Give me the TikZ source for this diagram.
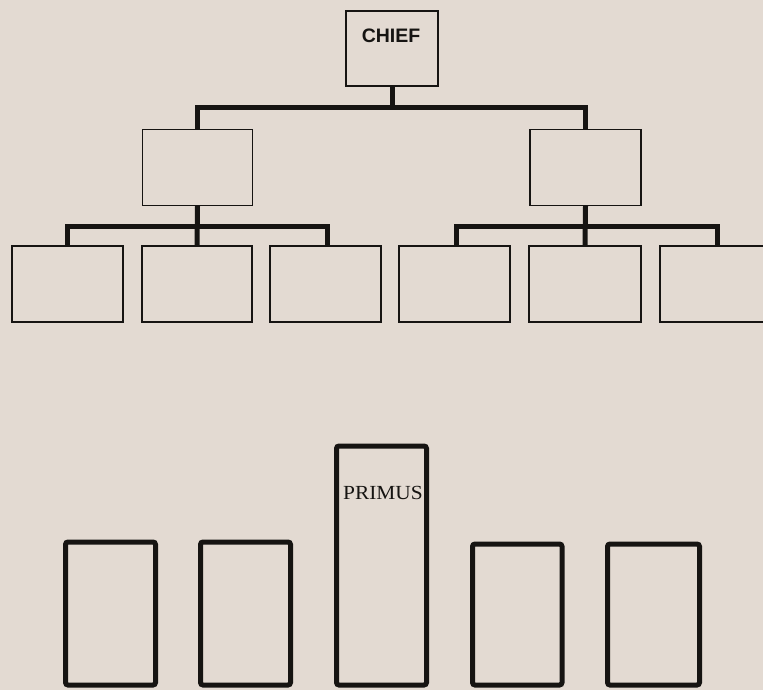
\documentclass[tikz,border=0pt]{standalone}
\usepackage{fontspec}
\setmainfont{Liberation Serif}
\newfontfamily\chieffont{Liberation Sans}
\definecolor{bg}{RGB}{227,218,210}
\definecolor{ink}{RGB}{22,20,18}
\begin{document}
\begin{tikzpicture}[x=1pt,y=-1pt,
  thinbox/.style={draw=ink,line width=1.3pt,inner sep=0pt,minimum width=110pt,minimum height=76pt},
  conn/.style={draw=ink,line width=5pt},
  thickbox/.style={draw=ink,line width=5pt,rounded corners=2.5pt,inner sep=0pt,minimum width=90pt},
  lbl/.style={inner sep=0pt,text=ink}]
\fill[bg,use as bounding box] (0,0) rectangle (763,690);
% top chart
\node[thinbox,minimum width=92pt,minimum height=75pt] (chief) at (392,48.5) {};
\node[lbl,font=\chieffont\bfseries\fontsize{19.5}{19.5}\selectfont] (chieft) at (391,35.5) {CHIEF};
\node[thinbox] (m1) at (197.5,167.5) {};
\node[thinbox,minimum width=111pt] (m2) at (585.5,167.5) {};
\node[thinbox,minimum width=111pt] (l1) at (67.5,284) {};
\node[thinbox] (l2) at (197,284) {};
\node[thinbox,minimum width=111pt] (l3) at (325.5,284) {};
\node[thinbox,minimum width=111pt] (r1) at (454.5,284) {};
\node[thinbox,minimum width=112pt] (r2) at (585,284) {};
\node[thinbox,minimum width=112pt] (r3) at (716,284) {};
\coordinate (b0) at (0,107.5);
\coordinate (b1) at (0,226.5);
\draw[conn] (chief.south) -- (chief.south |- b0);
\draw[conn,line join=miter] (m1.north) -- (m1.north |- b0) -- (m2.north |- b0) -- (m2.north);
\draw[conn] (m1.south) -- (l2.north);
\draw[conn,line join=miter] (l1.north -| 67,0) -- (67,0 |- b1) -- (327,0 |- b1) -- (l3.north -| 327,0);
\draw[conn] (m2.south) -- (r2.north);
\draw[conn,line join=miter] (r1.north -| 456,0) -- (456,0 |- b1) -- (717,0 |- b1) -- (r3.north -| 717,0);
% bottom row
\node[thickbox,minimum height=143pt] (p1) at (110.5,613.5) {};
\node[thickbox,minimum height=143pt] (p2) at (245.5,613.5) {};
\node[thickbox,minimum height=239pt] (pp) at (381.5,565.5) {};
\node[thickbox,minimum height=141pt,minimum width=89.5pt] (p4) at (517.25,614.5) {};
\node[thickbox,minimum height=141pt,minimum width=92pt] (p5) at (653.5,614.5) {};
\node[lbl,font=\fontsize{20}{20}\selectfont,xscale=1.07] (ppt) at (383,492.5) {PRIMUS};
\end{tikzpicture}
\end{document}
